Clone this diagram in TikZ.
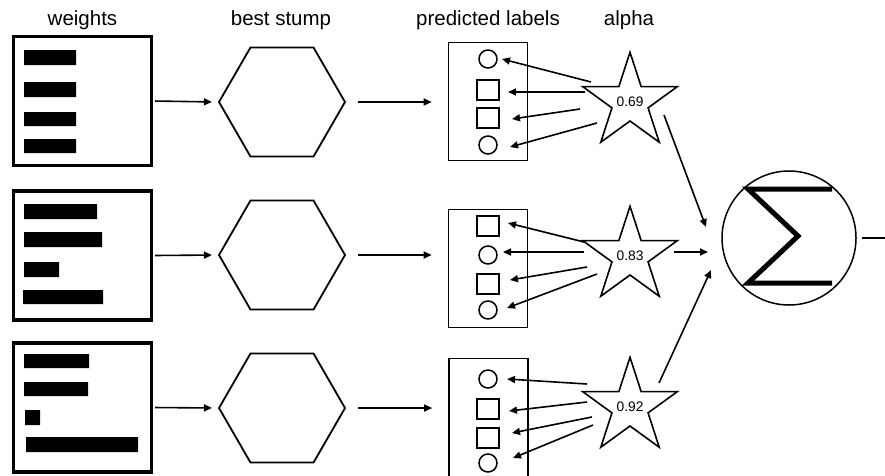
\documentclass[tikz,border=0pt]{standalone}
\usepackage{fontspec}
\setmainfont{Liberation Sans}
\usetikzlibrary{shapes.geometric,arrows.meta}

\begin{document}
\begin{tikzpicture}[x=1pt,y=-1pt,
  head/.style={anchor=base,font=\fontsize{20.5}{24}\selectfont},
  arr/.style={-{Triangle[length=8pt,width=7pt]},line width=1.6pt},
  wbox/.style={draw,line width=3.3pt,minimum width=138pt,minimum height=129pt,inner sep=0pt},
  stump/.style={draw,line width=1.8pt,regular polygon,regular polygon sides=6,minimum size=126pt,inner sep=0pt},
  lbox/.style={draw,line width=1.6pt,minimum width=79pt,minimum height=118pt,inner sep=0pt},
  dot/.style={draw,line width=1.5pt,circle,minimum size=18pt,inner sep=0pt},
  sq/.style={draw,line width=1.5pt,minimum width=22pt,minimum height=20pt,inner sep=0pt},
  alph/.style={draw,line width=1.6pt,star,star points=5,star point ratio=2.618,minimum size=78pt,inner sep=0pt,font=\fontsize{13.8}{16}\selectfont},
  sumc/.style={draw,line width=1.5pt,circle,minimum size=134pt,inner sep=0pt}]
\useasboundingbox (0,0) rectangle (885,475);

% column heads
\node[head] (tw) at (82.5,25) {weights};
\node[head] (ts) at (281,25) {best stump};
\node[head] (tl) at (488,25) {predicted labels};
\node[head] (ta) at (629,25) {alpha};

% weights
\node[wbox] (w1) at (82.5,101) {};
\node[wbox] (w2) at (82.5,255.5) {};
\node[wbox] (w3) at (82.5,407.5) {};
\fill (24,50) rectangle (76,65) (24,82) rectangle (76,97) (24,112) rectangle (76,126) (24,139) rectangle (76,153);
\fill (24,204) rectangle (97,219) (24,232) rectangle (102,247) (24,262) rectangle (59,277) (23,290) rectangle (103,304);
\fill (24,354) rectangle (89,368) (24,382) rectangle (88,396) (25,410) rectangle (40,425) (26,437) rectangle (138,452);

% stumps
\node[stump] (h1) at (282,102) {};
\node[stump] (h2) at (282,255) {};
\node[stump] (h3) at (282,408) {};

% predicted labels
\node[lbox] (l1) at (488,101.5) {};
\node[dot] (l1a) at (488,59) {};
\node[sq] (l1b) at (488,90) {};
\node[sq] (l1c) at (488,118) {};
\node[dot] (l1d) at (488,145) {};
\node[lbox] (l2) at (488,268.5) {};
\node[sq] (l2a) at (488,226) {};
\node[dot] (l2b) at (488,255) {};
\node[sq] (l2c) at (488,284) {};
\node[dot] (l2d) at (488,310) {};
\node[lbox] (l3) at (488.5,417.5) {};
\node[dot] (l3a) at (488,379) {};
\node[sq] (l3b) at (488,409) {};
\node[sq] (l3c) at (488,438) {};
\node[dot] (l3d) at (488,463) {};

% alphas
\node[alph] (a1) at (630,102) {0.69};
\node[alph] (a2) at (630,256) {0.83};
\node[alph] (a3) at (630,407) {0.92};

% sum
\node[sumc] (sig) at (789,238) {};
\draw[line width=5pt] ([shift={(43,-49)}]sig.center) -- ++(-84,0) -- ++(50,47) -- ++(-50,47) -- ++(84,0);
\coordinate (out) at (885,238);
\draw[line width=1.5pt] ([xshift=5pt]sig.east) -- (out);

% weights -> stump -> labels
\draw[arr,shorten <=2pt,shorten >=6pt] (w1.east) -- (h1.west);
\draw[arr,shorten <=2pt,shorten >=6pt] (w2.east) -- (h2.west);
\draw[arr,shorten <=2pt,shorten >=6pt] (w3.east) -- (h3.west);
\draw[arr,shorten <=12pt,shorten >=16pt] (h1.east) -- (h1.east -| l1.west);
\draw[arr,shorten <=12pt,shorten >=16pt] (h2.east) -- (h2.east -| l2.west);
\draw[arr,shorten <=12pt,shorten >=16pt] (h3.east) -- (h3.east -| l3.west);

% alpha -> labels
\draw[arr] ([shift={(-39,-20)}]a1.center) -- ([shift={(14,0)}]l1a.center);
\draw[arr] ([shift={(-45,-10)}]a1.center) -- ([shift={(20,2)}]l1b.center);
\draw[arr] ([shift={(-50,7)}]a1.center) -- ([shift={(24,1)}]l1c.center);
\draw[arr] ([shift={(-33,21)}]a1.center) -- ([shift={(22,2)}]l1d.center);
\draw[arr] ([shift={(-46,-14)}]a2.center) -- ([shift={(20,-3)}]l2a.center);
\draw[arr] ([shift={(-46,-4)}]a2.center) -- ([shift={(15,-3)}]l2b.center);
\draw[arr] ([shift={(-43,11)}]a2.center) -- ([shift={(22,-4)}]l2c.center);
\draw[arr] ([shift={(-33,18)}]a2.center) -- ([shift={(19,-2)}]l2d.center);
\draw[arr] ([shift={(-43,-23)}]a3.center) -- ([shift={(19,0)}]l3a.center);
\draw[arr] ([shift={(-43,-5)}]a3.center) -- ([shift={(21,2)}]l3b.center);
\draw[arr] ([shift={(-38,10)}]a3.center) -- ([shift={(24,-5)}]l3c.center);
\draw[arr] ([shift={(-37,18)}]a3.center) -- ([shift={(25,-5)}]l3d.center);

% alpha -> sum
\draw[arr] ([shift={(34,13)}]a1.center) -- ([shift={(-83,-11)}]sig.center);
\draw[arr] ([shift={(44,-4)}]a2.center) -- ([shift={(-81,14)}]sig.center);
\draw[arr] ([shift={(29,-24)}]a3.center) -- ([shift={(-78,32)}]sig.center);
\end{tikzpicture}
\end{document}
